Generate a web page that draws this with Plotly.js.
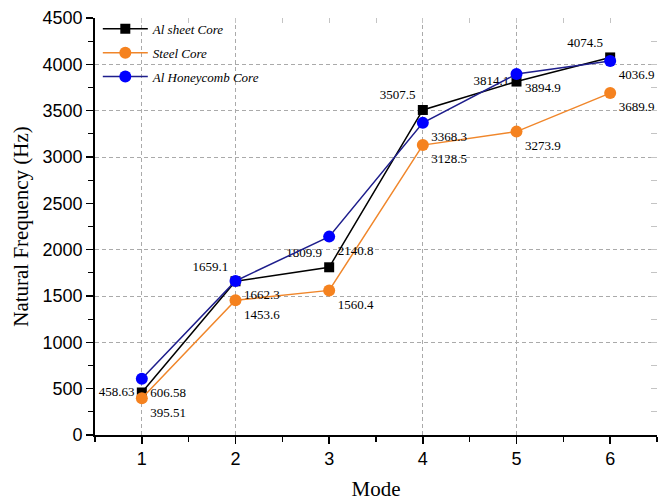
<!DOCTYPE html>
<html>
<head>
<meta charset="utf-8">
<script src="https://cdn.plot.ly/plotly-3.0.1.min.js"></script>
<style>html,body{margin:0;padding:0;background:#fff;}#chart{width:665px;height:501px;}</style>
</head>
<body>
<div id="chart"></div>
<script>
const modes = [1, 2, 3, 4, 5, 6];
const alSheet = [458.63, 1659.1, 1809.9, 3507.5, 3814.1, 4074.5];
const steel = [395.51, 1453.6, 1560.4, 3128.5, 3273.9, 3689.9];
const alHoneycomb = [606.58, 1662.3, 2140.8, 3368.3, 3894.9, 4036.9];
const seriesNames = ['Al sheet Core', 'Steel Core', 'Al Honeycomb Core'];
const xTickLabels = ['1', '2', '3', '4', '5', '6'];
const yGridValues = [1000, 1500, 2000, 3000, 3500, 4000];
const xGridValues = [1, 2, 4, 5];

const labelFont = {family: 'Liberation Serif, Times New Roman, serif', size: 13, color: '#000'};

const traces = [
  {
    x: modes, y: alSheet, name: seriesNames[0], mode: 'lines+markers+text', legendgroup: 'a',
    line: {color: '#000000', width: 1.5},
    marker: {symbol: 'square', size: 10, color: '#000000'},
    text: alSheet.map(String),
    textposition: ['middle left', 'top left', 'top left', 'top left', 'middle left', 'top left'],
    textfont: labelFont, cliponaxis: false
  },
  {
    x: modes, y: steel, name: seriesNames[1], mode: 'lines+markers+text', legendgroup: 'b',
    line: {color: '#F0862A', width: 1.5},
    marker: {symbol: 'circle', size: 12, color: '#F5821F'},
    text: steel.map(String),
    textposition: 'bottom right',
    textfont: labelFont, cliponaxis: false
  },
  {
    x: modes, y: alHoneycomb, name: seriesNames[2], mode: 'lines+markers+text', legendgroup: 'c',
    line: {color: '#1E1E8C', width: 1.5},
    marker: {symbol: 'circle', size: 12, color: '#0000FF'},
    text: alHoneycomb.map(String),
    textposition: 'bottom right',
    textfont: labelFont, cliponaxis: false
  }
];

const tickFont = {family: 'Liberation Sans, Arial, sans-serif', size: 18, color: '#000'};
const titleFont = {family: 'Liberation Serif, Times New Roman, serif', size: 21, color: '#000'};

const layout = {
  width: 665, height: 501,
  margin: {l: 95, r: 8, t: 18, b: 66},
  paper_bgcolor: '#fff', plot_bgcolor: 'rgba(0,0,0,0)',
  showlegend: true,
  legend: {
    x: 0.005, y: 1.01, xanchor: 'left', yanchor: 'top',
    bgcolor: 'rgba(255,255,255,0)', borderwidth: 0,
    font: {family: 'Liberation Serif, Times New Roman, serif', size: 13, style: 'italic', color: '#000'},
    itemwidth: 45, tracegroupgap: 4
  },
  xaxis: {
    range: [0.5, 6.5], tickmode: 'array', tickvals: modes, ticktext: xTickLabels,
    ticks: 'outside', ticklen: 7, tickwidth: 1.5, tickcolor: '#000',
    minor: {dtick: 0.5, tick0: 0.5, ticks: 'outside', ticklen: 5, tickwidth: 1.2, tickcolor: '#000', showgrid: false},
    showline: true, linecolor: '#000', linewidth: 1.8,
    showgrid: false, zeroline: false, tickfont: tickFont,
    title: {text: 'Mode', font: titleFont, standoff: 14}
  },
  yaxis: {
    range: [0, 4500], dtick: 500, tick0: 0,
    ticks: 'outside', ticklen: 7, tickwidth: 1.5, tickcolor: '#000',
    minor: {dtick: 250, ticks: 'outside', ticklen: 5, tickwidth: 1.2, tickcolor: '#000', showgrid: false},
    showline: true, linecolor: '#000', linewidth: 1.8,
    showgrid: false, zeroline: false, tickfont: tickFont,
    title: {text: 'Natural Frequency (Hz)', font: titleFont, standoff: 8}
  },
  xaxis2: {
    overlaying: 'x', side: 'top', range: [0.5, 6.5], tickmode: 'array', tickvals: xGridValues,
    showticklabels: false, ticks: '', showline: false, zeroline: false,
    showgrid: true, gridcolor: '#aaa', griddash: '4px,3px', gridwidth: 1
  },
  yaxis2: {
    overlaying: 'y', side: 'right', range: [0, 4500], tickmode: 'array', tickvals: yGridValues,
    showticklabels: false, ticks: '', showline: false, zeroline: false,
    showgrid: true, gridcolor: '#aaa', griddash: '4px,3px', gridwidth: 1
  },
  xaxis3: {
    overlaying: 'x', side: 'top', range: [0.5, 6.5], dtick: 0.5, tick0: 0.5,
    showticklabels: false, ticks: 'inside', ticklen: 5, tickcolor: '#c4c4c4', tickwidth: 1,
    showline: false, zeroline: false, showgrid: false
  },
  yaxis3: {
    overlaying: 'y', side: 'right', range: [0, 4500], dtick: 250, tick0: 0,
    showticklabels: false, ticks: 'inside', ticklen: 6, tickcolor: '#c4c4c4', tickwidth: 1,
    showline: false, zeroline: false, showgrid: false
  }
};

const helpers = [
  {x: [], y: [], xaxis: 'x2', yaxis: 'y2', showlegend: false, hoverinfo: 'skip', type: 'scatter'},
  {x: [], y: [], xaxis: 'x3', yaxis: 'y3', showlegend: false, hoverinfo: 'skip', type: 'scatter'}
];

Plotly.newPlot('chart', helpers.concat(traces), layout, {displayModeBar: false, staticPlot: true});
</script>
</body>
</html>
